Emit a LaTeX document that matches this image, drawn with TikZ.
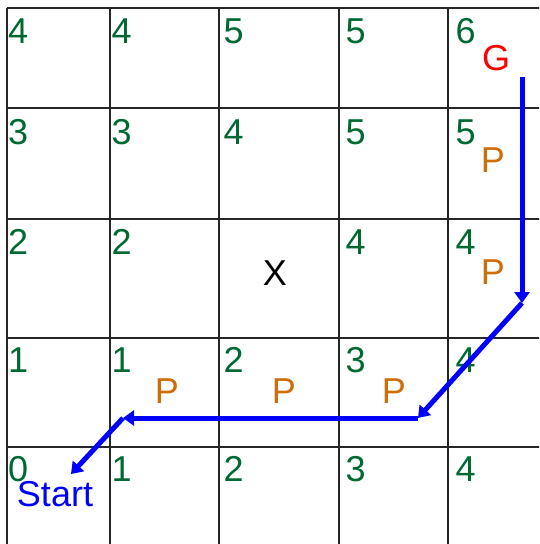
\documentclass[tikz,border=0pt]{standalone}
\usepackage{fontspec}
\setmainfont{Liberation Sans}
\usetikzlibrary{arrows.meta}
\definecolor{costgreen}{RGB}{0,105,50}
\definecolor{porange}{RGB}{205,110,10}

\begin{document}
\begin{tikzpicture}[
  x=1pt, y=-1pt,
  gridline/.style={line width=2pt, black!85},
  cost/.style={anchor=base west, inner sep=0pt, text=costgreen, font=\fontsize{36}{40}\selectfont},
  pmark/.style={inner sep=0pt, text=porange, font=\fontsize{36}{40}\selectfont},
  lbl/.style={inner sep=0pt, font=\fontsize{36}{40}\selectfont},
  arr/.style={-{Triangle[length=11pt,width=15pt]}, line width=5pt, blue}
]
\useasboundingbox (0,0) rectangle (539,544);
\begin{scope}
  \clip (0,0) rectangle (539,544);
  \draw[gridline] (7,8) -- (560,8);
  \draw[gridline] (7,108) -- (560,108);
  \draw[gridline] (7,219) -- (560,219);
  \draw[gridline] (7,338) -- (560,338);
  \draw[gridline] (7,447) -- (560,447);
  \draw[gridline] (7,8) -- (7,560);
  \draw[gridline] (110,8) -- (110,560);
  \draw[gridline] (219,8) -- (219,560);
  \draw[gridline] (339,8) -- (339,560);
  \draw[gridline] (448,8) -- (448,560);
\end{scope}

% cost values, row by row
\node[cost] (c00) at (8,43)     {4};
\node[cost] (c01) at (111.5,43) {4};
\node[cost] (c02) at (223.5,43) {5};
\node[cost] (c03) at (345.5,43) {5};
\node[cost] (c04) at (455.5,43) {6};
\node[cost] (c10) at (8,144)     {3};
\node[cost] (c11) at (111.5,144) {3};
\node[cost] (c12) at (223.5,144) {4};
\node[cost] (c13) at (345.5,144) {5};
\node[cost] (c14) at (455.5,144) {5};
\node[cost] (c20) at (8,254)     {2};
\node[cost] (c21) at (111.5,254) {2};
\node[cost] (c23) at (345.5,254) {4};
\node[cost] (c24) at (455.5,254) {4};
\node[cost] (c30) at (8,372)     {1};
\node[cost] (c31) at (111.5,372) {1};
\node[cost] (c32) at (223.5,372) {2};
\node[cost] (c33) at (345.5,372) {3};
\node[cost] (c34) at (455.5,372) {4};
\node[cost] (c40) at (8,481)     {0};
\node[cost] (c41) at (111.5,481) {1};
\node[cost] (c42) at (223.5,481) {2};
\node[cost] (c43) at (345.5,481) {3};
\node[cost] (c44) at (455.5,481) {4};

\node[lbl] (wall)  at (275,273) {X};
\node[lbl, text=red] (goal) at (496,58) {G};
\node[lbl, text=blue] (start) at (55,494) {Start};

\node[pmark] (p1) at (493,160) {P};
\node[pmark] (p2) at (493,272) {P};
\node[pmark] (p3) at (167,391) {P};
\node[pmark] (p4) at (284,391) {P};
\node[pmark] (p5) at (394,391) {P};

% path back to start
\coordinate (w1) at (522,77);
\coordinate (w2) at (522,303);
\coordinate (w3) at (418,418);
\coordinate (w4) at (123,418);
\coordinate (w5) at (71,474);
\draw[arr] (w1) -- (w2);
\draw[arr] (w2) -- (w3);
\draw[arr] (w3) -- (w4);
\draw[arr] (w4) -- (w5);
\end{tikzpicture}
\end{document}
